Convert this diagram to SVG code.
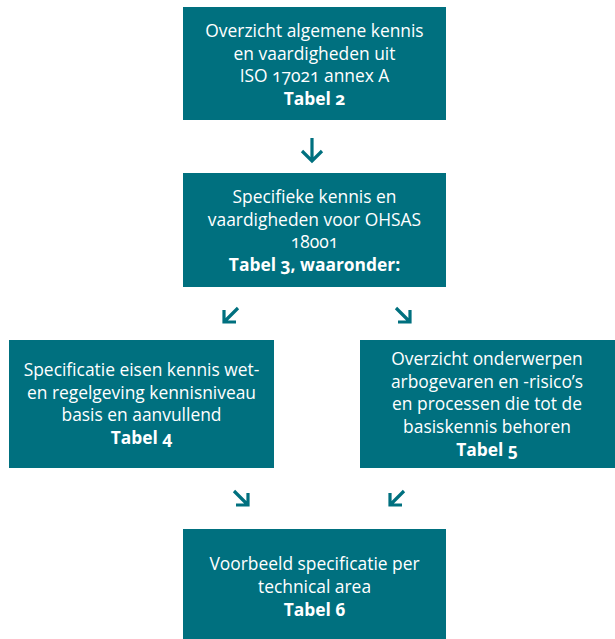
<svg xmlns="http://www.w3.org/2000/svg" width="615" height="639" viewBox="0 0 615 639">
<style>
.box{fill:#00707f}
.t{font-family:"Open Sans","Noto Sans","Liberation Sans",sans-serif;font-size:17.4px;fill:#ffffff;text-anchor:middle;font-variant-numeric:oldstyle-nums}
.b{font-weight:bold}
.arr{fill:none;stroke:#00707f;stroke-width:3.2;stroke-linecap:butt;stroke-linejoin:miter}
</style>
<rect width="615" height="639" fill="#ffffff"/>
<g id="connectors">
<path class="arr" d="M312,138 V161 M302,151 L312,161 L322,151"/>
<path class="arr" d="M238,308 L224,322 M224,310 V322 H236"/>
<path class="arr" d="M396,308 L410,322 M410,310 V322 H398"/>
<path class="arr" d="M234,491 L248,505 M248,493 V505 H236"/>
<path class="arr" d="M404,491 L390,505 M390,493 V505 H402"/>
</g>
<g id="node1">
<rect class="box" x="183" y="7" width="263" height="113"/>
<text class="t" x="314.5" y="37">Overzicht algemene kennis</text>
<text class="t" x="314.5" y="59.5">en vaardigheden uit</text>
<text class="t" x="314.5" y="82">ISO 17021 annex A</text>
<text class="t b" x="314.5" y="105">Tabel 2</text>
</g>
<g id="node2">
<rect class="box" x="183" y="173" width="263" height="114"/>
<text class="t" x="314.5" y="203">Specifieke kennis en</text>
<text class="t" x="314.5" y="225.5">vaardigheden voor OHSAS</text>
<text class="t" x="314.5" y="248">18001</text>
<text class="t b" x="314.5" y="271">Tabel 3, waaronder:</text>
</g>
<g id="node3">
<rect class="box" x="9" y="340" width="265" height="128"/>
<text class="t" x="141.5" y="376">Specificatie eisen kennis wet-</text>
<text class="t" x="141.5" y="398.5">en regelgeving kennisniveau</text>
<text class="t" x="141.5" y="421">basis en aanvullend</text>
<text class="t b" x="141.5" y="444">Tabel 4</text>
</g>
<g id="node4">
<rect class="box" x="360" y="340" width="255" height="128"/>
<text class="t" x="487" y="365">Overzicht onderwerpen</text>
<text class="t" x="487" y="387.5">arbogevaren en -risico’s</text>
<text class="t" x="487" y="410">en processen die tot de</text>
<text class="t" x="487" y="432.5">basiskennis behoren</text>
<text class="t b" x="487" y="456">Tabel 5</text>
</g>
<g id="node5">
<rect class="box" x="183" y="529" width="263" height="110"/>
<text class="t" x="314.5" y="570">Voorbeeld specificatie per</text>
<text class="t" x="314.5" y="592.5">technical area</text>
<text class="t b" x="314.5" y="616">Tabel 6</text>
</g>
</svg>
